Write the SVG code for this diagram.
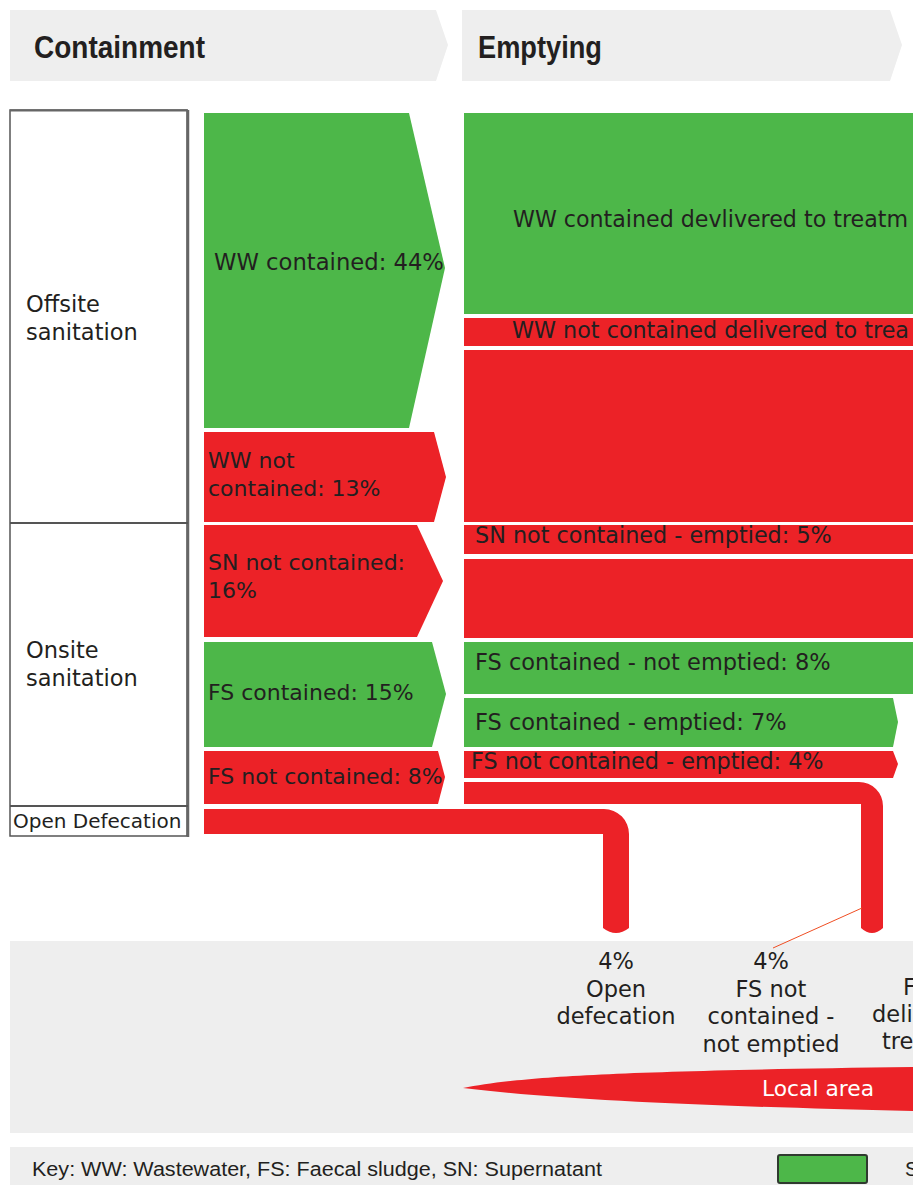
<svg xmlns="http://www.w3.org/2000/svg" width="917" height="1185" viewBox="0 0 917 1185">
  <defs>
    <style>
      .lbl { font-family: "DejaVu Sans", "Open Sans", sans-serif; fill: #231f20; }
      .hdr { font-family: "Liberation Sans", Arial, sans-serif; font-weight: bold; fill: #231f20; font-size: 32px; }
      .key { font-family: "Liberation Sans", Arial, sans-serif; fill: #231f20; font-size: 20px; }
      .g { fill: #4db749; }
      .r { fill: #ec2227; }
      .panel { fill: #eeeeee; }
      .box { fill: #ffffff; stroke: #555555; stroke-width: 1.5; }
      .mid { text-anchor: middle; }
      .out { font-size: 22.5px; }
    </style>
    <clipPath id="page">
      <rect x="0" y="0" width="913" height="1185"/>
    </clipPath>
  </defs>

  <rect width="917" height="1185" fill="#ffffff"/>

  <g clip-path="url(#page)">
    <!-- stage headers -->
    <g id="hdr-containment">
      <polygon class="panel" points="10,10 436,10 448,45 436,81 10,81"/>
      <text class="hdr" x="34" y="58" textLength="171" lengthAdjust="spacingAndGlyphs">Containment</text>
    </g>
    <g id="hdr-emptying">
      <polygon class="panel" points="462,10 890,10 902,45 890,81 462,81"/>
      <text class="hdr" x="478" y="58" textLength="124" lengthAdjust="spacingAndGlyphs">Emptying</text>
    </g>

    <!-- sanitation type boxes -->
    <g id="types">
      <rect class="box" x="10" y="110" width="177" height="726"/>
      <line x1="188" y1="110" x2="188" y2="837" stroke="#666666" stroke-width="2.5"/>
      <line x1="10" y1="110.5" x2="188" y2="110.5" stroke="#666666" stroke-width="2"/>
      <line x1="10" y1="523" x2="188" y2="523" stroke="#555555" stroke-width="2"/>
      <line x1="10" y1="806" x2="188" y2="806" stroke="#555555" stroke-width="2"/>
    </g>
    <g id="offsite">
      <text class="lbl" font-size="22.5" x="26" y="312">Offsite</text>
      <text class="lbl" font-size="22.5" x="26" y="340">sanitation</text>
    </g>
    <g id="onsite">
      <text class="lbl" font-size="22.5" x="26" y="658">Onsite</text>
      <text class="lbl" font-size="22.5" x="26" y="686">sanitation</text>
    </g>
    <g id="open-defecation">
      <text class="lbl" font-size="20" x="13" y="828">Open Defecation</text>
    </g>

    <!-- containment flows -->
    <g id="ww-contained">
      <polygon class="g" points="204,113 409,113 445,268 409,428 204,428"/>
      <text class="lbl" font-size="22.7" x="214" y="270">WW contained: 44%</text>
    </g>
    <g id="ww-not-contained">
      <polygon class="r" points="204,432 434,432 446,477 434,522 204,522"/>
      <text class="lbl" font-size="22" x="208" y="468">WW not</text>
      <text class="lbl" font-size="22" x="208" y="496">contained: 13%</text>
    </g>
    <g id="sn-not-contained">
      <polygon class="r" points="204,525 417,525 443,581 417,637 204,637"/>
      <text class="lbl" font-size="22" x="208" y="570">SN not contained:</text>
      <text class="lbl" font-size="22" x="208" y="598">16%</text>
    </g>
    <g id="fs-contained">
      <polygon class="g" points="204,642 432,642 446,694 432,747 204,747"/>
      <text class="lbl" font-size="22" x="208" y="700">FS contained: 15%</text>
    </g>
    <g id="fs-not-contained">
      <polygon class="r" points="204,751 438,751 445,777 438,804 204,804"/>
      <text class="lbl" font-size="22" x="208" y="784">FS not contained: 8%</text>
    </g>

    <!-- emptying flows -->
    <g id="ww-contained-delivered">
      <rect class="g" x="464" y="113" width="449" height="201"/>
      <text class="lbl" font-size="22.8" x="513" y="227" textLength="395" lengthAdjust="spacingAndGlyphs">WW contained devlivered to treatm</text>
    </g>
    <g id="ww-not-contained-delivered">
      <rect class="r" x="464" y="318" width="449" height="28"/>
      <text class="lbl" font-size="22.5" x="512" y="338" textLength="397" lengthAdjust="spacingAndGlyphs">WW not contained delivered to trea</text>
    </g>
    <g id="ww-not-contained-rest">
      <rect class="r" x="464" y="350" width="449" height="172"/>
    </g>
    <g id="sn-emptied">
      <rect class="r" x="464" y="525" width="449" height="29"/>
      <text class="lbl" font-size="22.3" x="475" y="543">SN not contained - emptied: 5%</text>
    </g>
    <g id="sn-rest">
      <rect class="r" x="464" y="559" width="449" height="79"/>
    </g>
    <g id="fs-contained-not-emptied">
      <rect class="g" x="464" y="642" width="449" height="52"/>
      <text class="lbl" font-size="22.5" x="475" y="670">FS contained - not emptied: 8%</text>
    </g>
    <g id="fs-contained-emptied">
      <polygon class="g" points="464,698 893,698 898,722 893,747 464,747"/>
      <text class="lbl" font-size="22.5" x="475" y="730">FS contained - emptied: 7%</text>
    </g>
    <g id="fs-not-contained-emptied">
      <polygon class="r" points="464,751 893,751 898,764 893,778 464,778"/>
      <text class="lbl" font-size="22.3" x="471" y="769">FS not contained - emptied: 4%</text>
    </g>

    <!-- outcome panel -->
    <g id="outcomes">
      <rect class="panel" x="10" y="941" width="903" height="192"/>
    </g>
    <g id="out-open-defecation">
      <text class="lbl out mid" x="616" y="969">4%</text>
      <text class="lbl out mid" x="616" y="997">Open</text>
      <text class="lbl out mid" x="616" y="1024">defecation</text>
    </g>
    <g id="out-fs-not-emptied">
      <text class="lbl out mid" x="771" y="969">4%</text>
      <text class="lbl out mid" x="771" y="997">FS not</text>
      <text class="lbl out mid" x="771" y="1024">contained -</text>
      <text class="lbl out mid" x="771" y="1052">not emptied</text>
    </g>
    <g id="out-delivered">
      <text class="lbl out" x="903" y="995">F</text>
      <text class="lbl out" x="872" y="1022">deli</text>
      <text class="lbl out" x="882" y="1049">tre</text>
    </g>
    <g id="local-area">
      <path class="r" d="M463,1088 C520,1077 600,1071 913,1067 L913,1111 C700,1106 560,1100 463,1088 Z"/>
      <text font-family="DejaVu Sans, Open Sans, sans-serif" font-size="21.8" fill="#ffffff" x="762" y="1096">Local area</text>
    </g>

    <!-- key -->
    <g id="key">
      <rect class="panel" x="10" y="1147" width="903" height="38"/>
      <text class="key" x="32" y="1176" textLength="570" lengthAdjust="spacingAndGlyphs">Key: WW: Wastewater, FS: Faecal sludge, SN: Supernatant</text>
      <rect x="778" y="1155" width="89" height="28" rx="2" fill="#4db749" stroke="#2f3a2f" stroke-width="2"/>
      <text class="key" x="905" y="1176">S</text>
    </g>

    <!-- flows into the local area -->
    <g id="connectors">
      <path class="r" d="M204,809 H604 A25,25 0 0 1 629,834 V928 Q616,938 603,928 V834 H204 Z"/>
      <path class="r" d="M464,782 H859 A24,24 0 0 1 883,806 V928 Q872,938 861,928 V804 H464 Z"/>
      <line x1="773" y1="948" x2="862" y2="908" stroke="#f04e23" stroke-width="1"/>
    </g>
  </g>
</svg>
